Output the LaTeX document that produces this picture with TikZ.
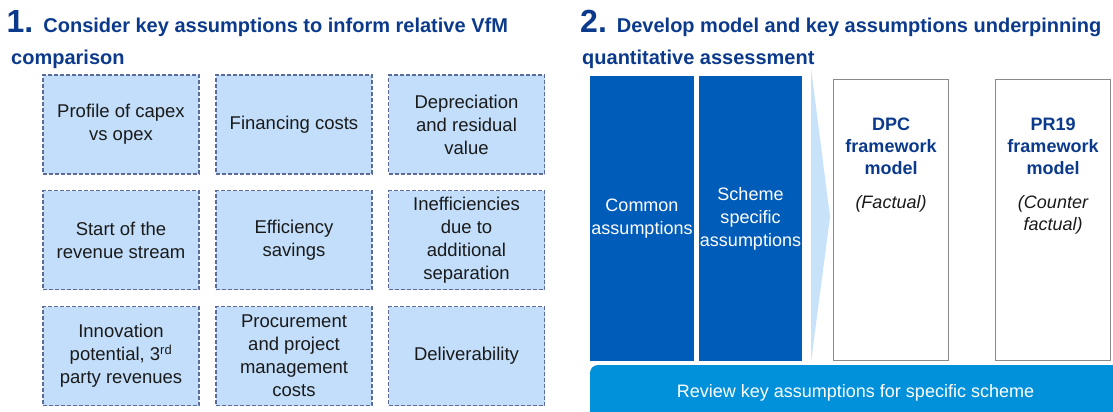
\documentclass[tikz,border=0pt]{standalone}
\usepackage{fontspec}
\setmainfont{Liberation Sans}
\usetikzlibrary{positioning}
\definecolor{navy}{HTML}{0B3A8C}
\definecolor{paleblue}{HTML}{C2DEFA}
\definecolor{dashline}{HTML}{5B6C9B}
\definecolor{deepblue}{HTML}{005CB9}
\definecolor{brightblue}{HTML}{0091DA}
\definecolor{chevron}{HTML}{C8E2FA}
\definecolor{boxgrey}{HTML}{8A8A8A}
\definecolor{ink}{HTML}{1A1A1A}
\tikzset{
  factor/.style={draw=dashline, fill=paleblue, dash pattern=on 4pt off 2pt, line width=1.2pt, minimum width=156pt, minimum height=99pt, inner sep=2pt, align=center, text=ink, font=\fontsize{18.5}{23}\selectfont},
  assume/.style={fill=deepblue, minimum width=104pt, minimum height=285pt, inner sep=0pt, align=center, text=white, font=\fontsize{18}{23}\selectfont},
  model/.style={draw=boxgrey, fill=white, line width=1.5pt, minimum width=115pt, minimum height=281pt, inner sep=0pt},
  modlab/.style={anchor=north, inner sep=0pt, align=center, text=navy, font=\fontsize{18}{22}\selectfont\bfseries},
  head/.style={anchor=base west, inner sep=0pt, text=navy, font=\fontsize{20}{24}\selectfont\bfseries},
}
\newcommand{\bignum}[1]{{\fontsize{32}{32}\selectfont #1}\hspace{10pt}}
\newcommand{\factnote}{\mdseries\itshape\color{ink}}

\begin{document}
\begin{tikzpicture}[x=1pt,y=-1pt]
  \useasboundingbox (0,0) rectangle (1113,412);
  % 1. headline
  \node[head] (headA) at (6.5,33) {\bignum{1.}Consider key assumptions to inform relative VfM};
  \node[head] (headAb) at (11,65) {comparison};
  % grid of key assumptions
  \node[factor] (capex) at (121,124.5) {Profile of capex\\vs opex};
  \node[factor] (finance) at (294,124.5) {Financing costs};
  \node[factor] (deprec) at (466.5,124.5) {Depreciation\\and residual\\value};
  \node[factor] (revenue) at (121,240) {Start of the\\revenue stream};
  \node[factor] (effic) at (294,240) {Efficiency\\savings};
  \node[factor] (ineffic) at (466.5,240) {Inefficiencies\\due to\\additional\\separation};
  \node[factor] (innov) at (121,356) {Innovation\\potential, 3\textsuperscript{rd}\\party revenues};
  \node[factor] (procure) at (294,356) {Procurement\\and project\\management\\costs};
  \node[factor] (deliver) at (466.5,356) {Deliverability};
  % 2. headline
  \node[head] (headB) at (580,33) {\bignum{2.}Develop model and key assumptions underpinning};
  \node[head] (headBb) at (582,65) {quantitative assessment};
  % assumptions feeding the models
  \node[assume] (common) at (642,218.5) {Common\\assumptions};
  \node[assume, minimum width=103pt] (scheme) at (750.5,218.5) {Scheme\\specific\\assumptions};
  \fill[chevron] (811,68) -- (830,217) -- (811,362) -- cycle;
  \node[model] (dpc) at (891,220) {};
  \node[modlab] (dpclab) at ([yshift=-39pt]dpc.north) {DPC\\framework\\model\\[12pt]\factnote (Factual)};
  \node[model] (prc) at (1053,220) {};
  \node[modlab] (prclab) at ([yshift=-39pt]prc.north) {PR19\\framework\\model\\[12pt]\factnote (Counter\\\factnote factual)};
  \node[fill=brightblue, rounded corners=8pt, minimum width=531pt, minimum height=55pt, text=white, font=\fontsize{18}{23}\selectfont] (review) at (855.5,392.5) {\raisebox{3pt}{Review key assumptions for specific scheme}};
\end{tikzpicture}
\end{document}
